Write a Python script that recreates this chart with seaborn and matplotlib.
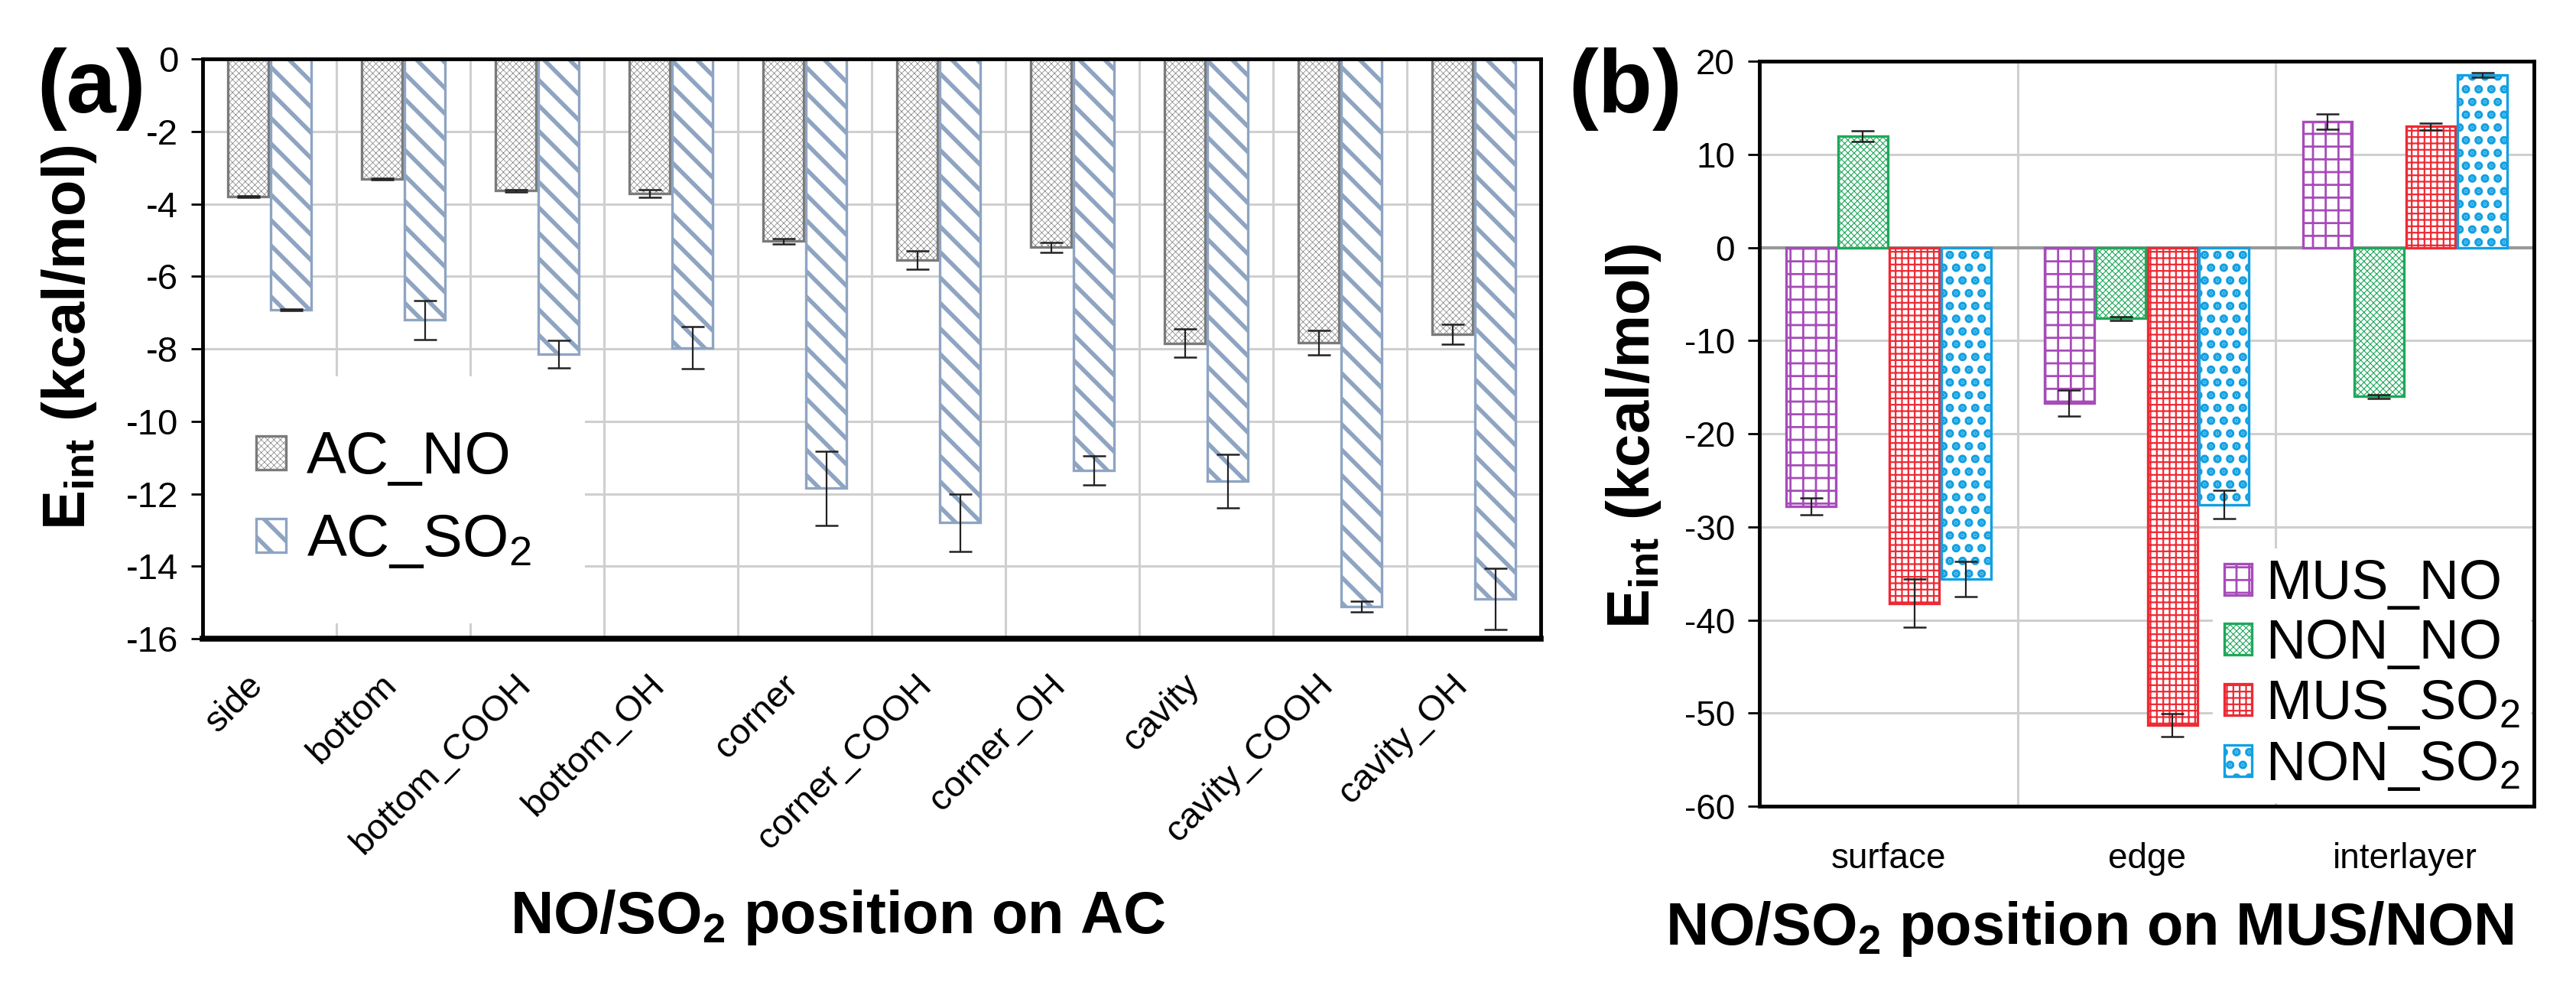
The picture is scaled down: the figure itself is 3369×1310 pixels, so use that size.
import pandas as pd
import seaborn as sns
import matplotlib.pyplot as plt
from matplotlib.transforms import ScaledTranslation

# ---- panel (a): AC ----
sites_ac = ["side", "bottom", "bottom_COOH", "bottom_OH", "corner",
            "corner_COOH", "corner_OH", "cavity", "cavity_COOH", "cavity_OH"]
ac_no = [-3.80, -3.31, -3.64, -3.71, -5.03, -5.55, -5.20, -7.85, -7.83, -7.60]
ac_no_err = [0.02, 0.02, 0.03, 0.10, 0.08, 0.25, 0.13, 0.39, 0.34, 0.28]
ac_so2 = [-6.92, -7.20, -8.15, -7.97, -11.85, -12.80, -11.35, -11.65, -15.12, -14.90]
ac_so2_err = [0.02, 0.54, 0.38, 0.58, 1.02, 0.79, 0.40, 0.74, 0.15, 0.85]

# ---- panel (b): MUS / NON ----
sites_mn = ["surface", "edge", "interlayer"]
mus_no = [-27.8, -16.7, 13.5]
mus_no_err = [0.9, 1.4, 0.8]
non_no = [11.95, -7.6, -16.0]
non_no_err = [0.6, 0.2, 0.2]
mus_so2 = [-38.2, -51.3, 13.0]
mus_so2_err = [2.6, 1.2, 0.35]
non_so2 = [-35.6, -27.6, 18.5]
non_so2_err = [1.9, 1.5, 0.25]

sns.set_theme(style="white")
plt.rcParams['font.family'] = ['Liberation Sans', 'DejaVu Sans']
plt.rcParams['axes.unicode_minus'] = False
plt.rcParams['mathtext.fontset'] = 'custom'
plt.rcParams['mathtext.rm'] = 'Liberation Sans'
plt.rcParams['mathtext.bf'] = 'Liberation Sans:bold'
for k in ['text.color', 'axes.labelcolor', 'xtick.color', 'ytick.color']:
    plt.rcParams[k] = 'black'

fig = plt.figure(figsize=(33.69, 13.10), dpi=100)
ax_a = fig.add_axes([0.0787, 0.3626, 0.5194, 0.5786])
ax_b = fig.add_axes([0.6830, 0.1954, 0.3007, 0.7435])


def style_bars(ax, vals, errs, edge, hatches, hlw):
    for cont, v, e, ec, h, lw in zip(ax.containers, vals, errs, edge, hatches, hlw):
        for p in cont:
            p.set_facecolor('white')
            p.set_edgecolor(ec)
            p.set_hatch(h)
            p.set_linewidth(2.4)
            if hasattr(p, 'set_hatch_linewidth'):
                p.set_hatch_linewidth(lw)
        xs = [p.get_x() + p.get_width() / 2 for p in cont]
        ax.errorbar(xs, v, yerr=e, fmt='none', ecolor='#222222', elinewidth=1.6,
                    capsize=11, capthick=1.8, zorder=4)


def fix_handles(leg, hlw):
    for h, lw in zip(leg.legend_handles, hlw):
        if hasattr(h, 'set_hatch_linewidth'):
            h.set_hatch_linewidth(lw)


def frame(ax, lw):
    for s in ax.spines.values():
        s.set_visible(True)
        s.set_color('black')
        s.set_linewidth(lw)


# ----- (a) -----
df_a = pd.DataFrame({
    "site": sites_ac * 2,
    "series": ["AC_NO"] * len(sites_ac) + ["AC_SO2"] * len(sites_ac),
    "E": ac_no + ac_so2,
})
sns.barplot(data=df_a, x="site", y="E", hue="series", order=sites_ac,
            hue_order=["AC_NO", "AC_SO2"], palette=["#7f7f7f", "#8ea4c2"],
            width=0.64, gap=0.06, errorbar=None, legend=False, ax=ax_a)
hlw_a = [0.5, 4.0]
style_bars(ax_a, [ac_no, ac_so2], [ac_no_err, ac_so2_err],
           ["#7a7a7a", "#8ea4c2"], ["xxxx", "\\"], hlw_a)
ax_a.set_ylim(-16, 0)
ax_a.set_xlim(-0.5, len(sites_ac) - 0.5)
ax_a.set_yticks(range(-16, 1, 2))
ax_a.set_xticks(range(len(sites_ac)))
ax_a.set_xticks([i + 0.5 for i in range(len(sites_ac) - 1)], minor=True)
ax_a.set_xticklabels(sites_ac, rotation=45, ha='right', fontsize=34)
shift = ScaledTranslation(0.11, 0, fig.dpi_scale_trans)
for lab in ax_a.get_xticklabels():
    lab.set_transform(lab.get_transform() + shift)
ax_a.tick_params(axis='y', labelsize=34, length=11, width=2, direction='out', left=True, pad=12)
ax_a.tick_params(axis='x', which='both', length=0, pad=28)
ax_a.set_axisbelow(True)
ax_a.grid(axis='y', color='#cfcfcf', linewidth=2.2)
ax_a.grid(axis='x', which='minor', color='#cfcfcf', linewidth=2.2)
frame(ax_a, 3.5)
ax_a.spines['bottom'].set_linewidth(5.5)
ax_a.set_xlabel(r"NO/SO$_\mathbf{2}$ position on AC", fontsize=56, fontweight='bold')
ax_a.xaxis.set_label_coords(0.475, -0.43)
ax_a.set_ylabel(r"E$_{\mathbf{int}}$ (kcal/mol)", fontsize=56, fontweight='bold')
ax_a.yaxis.set_label_coords(-0.078, 0.52)
leg_a = ax_a.legend(ax_a.containers, ["AC_NO", "AC_SO$_2$"], loc='lower left',
                    bbox_to_anchor=(0.0, 0.026), borderaxespad=0, fontsize=56,
                    frameon=True, facecolor='white', edgecolor='none', framealpha=1,
                    fancybox=False, borderpad=0.9, handlelength=0.5, handleheight=0.5,
                    handletextpad=0.35, labelspacing=0.45)
leg_a.set_zorder(2)
fix_handles(leg_a, hlw_a)

# ----- (b) -----
names_b = ["MUS_NO", "NON_NO", "MUS_SO2", "NON_SO2"]
df_b = pd.DataFrame({
    "site": sites_mn * 4,
    "series": [n for n in names_b for _ in sites_mn],
    "E": mus_no + non_no + mus_so2 + non_so2,
})
cols_b = ["#a64cb8", "#1ea85a", "#ee2a34", "#12a0e2"]
sns.barplot(data=df_b, x="site", y="E", hue="series", order=sites_mn,
            hue_order=names_b, palette=cols_b, width=0.8, gap=0.04,
            errorbar=None, legend=False, ax=ax_b)
hlw_b = [2.0, 0.8, 1.6, 5.5]
style_bars(ax_b, [mus_no, non_no, mus_so2, non_so2],
           [mus_no_err, non_no_err, mus_so2_err, non_so2_err],
           cols_b, ["+", "xxxx", "++", "."], hlw_b)
ax_b.set_ylim(-60, 20)
ax_b.set_xlim(-0.5, len(sites_mn) - 0.5)
ax_b.set_yticks(range(-60, 21, 10))
ax_b.set_xticks([i + 0.5 for i in range(len(sites_mn) - 1)], minor=True)
ax_b.tick_params(axis='y', labelsize=33, length=11, width=2, direction='out', left=True, pad=12)
ax_b.tick_params(axis='x', which='both', labelsize=33, length=0, pad=34)
ax_b.set_axisbelow(True)
ax_b.grid(axis='y', color='#cfcfcf', linewidth=2.2)
ax_b.grid(axis='x', which='minor', color='#cfcfcf', linewidth=2.2)
ax_b.axhline(0, color='#9a9a9a', linewidth=3, zorder=0.6)
frame(ax_b, 3.5)
ax_b.set_xlabel(r"NO/SO$_\mathbf{2}$ position on MUS/NON", fontsize=56, fontweight='bold')
ax_b.xaxis.set_label_coords(0.4265, -0.125)
ax_b.set_ylabel(r"E$_{\mathbf{int}}$ (kcal/mol)", fontsize=56, fontweight='bold')
ax_b.yaxis.set_label_coords(-0.124, 0.497)
leg_b = ax_b.legend(ax_b.containers, ["MUS_NO", "NON_NO", "MUS_SO$_2$", "NON_SO$_2$"],
                    loc='lower right', borderaxespad=0.05, fontsize=52, frameon=True,
                    facecolor='white', edgecolor='none', framealpha=1, fancybox=False,
                    borderpad=0.2, handlelength=0.5, handleheight=0.5,
                    handletextpad=0.25, labelspacing=0.15)
leg_b.set_zorder(2)
fix_handles(leg_b, hlw_b)

fig.text(0.0142, 0.953, "(a)", fontsize=84, fontweight='bold', va='top', ha='left')
fig.text(0.609, 0.953, "(b)", fontsize=84, fontweight='bold', va='top', ha='left')

fig.savefig("out.png", dpi=100)
